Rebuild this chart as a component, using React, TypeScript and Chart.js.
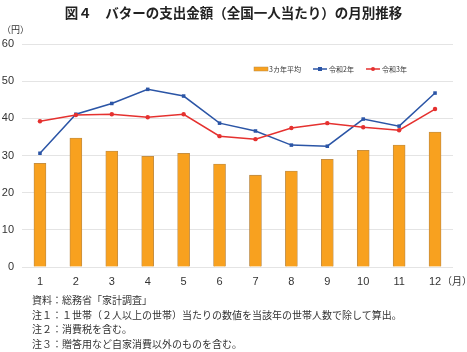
import React, { useEffect, useRef } from "react";
import { Chart, registerables } from "chart.js";

Chart.register(...registerables);

const months = ["1", "2", "3", "4", "5", "6", "7", "8", "9", "10", "11", "12"];
const avg3y = [27.9, 34.7, 31.2, 29.8, 30.6, 27.7, 24.7, 25.8, 29.0, 31.4, 32.8, 36.3];
const reiwa2 = [30.6, 41.1, 44.0, 47.8, 46.0, 38.7, 36.6, 32.8, 32.5, 39.8, 37.9, 46.8];
const reiwa3 = [39.2, 40.9, 41.1, 40.3, 41.1, 35.2, 34.4, 37.4, 38.7, 37.6, 36.8, 42.5];
const yTicks = [0, 10, 20, 30, 40, 50, 60];
const seriesNames = ["3カ年平均", "令和2年", "令和3年"];
const notes = [
  "資料：総務省「家計調査」",
  "注１：１世帯（２人以上の世帯）当たりの数値を当該年の世帯人数で除して算出。",
  "注２：消費税を含む。",
  "注３：贈答用など自家消費以外のものを含む。",
];

const ORANGE = "#F8A11F";
const ORANGE_BORDER = "#B98A4A";
const BLUE = "#2B55A6";
const RED = "#E5312F";
const JP = '"Noto Sans CJK JP", "Noto Sans", sans-serif';

const legendPlugin = {
  id: "customLegend",
  afterDraw(chart: any) {
    const ctx = chart.ctx;
    ctx.save();
    ctx.font = `7px ${JP}`;
    ctx.textBaseline = "middle";
    ctx.fillStyle = "#333";
    const y = 69;
    // bar item
    ctx.fillStyle = ORANGE;
    ctx.fillRect(254, y - 2, 14, 4);
    ctx.strokeStyle = ORANGE_BORDER;
    ctx.lineWidth = 0.5;
    ctx.strokeRect(254, y - 2, 14, 4);
    ctx.fillStyle = "#333";
    ctx.fillText(seriesNames[0], 269, y);
    // blue
    ctx.strokeStyle = BLUE;
    ctx.lineWidth = 1.5;
    ctx.beginPath();
    ctx.moveTo(313, y);
    ctx.lineTo(327, y);
    ctx.stroke();
    ctx.fillStyle = BLUE;
    ctx.fillRect(318, y - 2, 4, 4);
    ctx.fillStyle = "#333";
    ctx.fillText(seriesNames[1], 329, y);
    // red
    ctx.strokeStyle = RED;
    ctx.beginPath();
    ctx.moveTo(366, y);
    ctx.lineTo(380, y);
    ctx.stroke();
    ctx.fillStyle = RED;
    ctx.beginPath();
    ctx.arc(373, y, 2, 0, Math.PI * 2);
    ctx.fill();
    ctx.fillStyle = "#333";
    ctx.fillText(seriesNames[2], 382, y);
    ctx.restore();
  },
};

export default function App() {
  const ref = useRef<HTMLCanvasElement>(null);
  useEffect(() => {
    const chart = new Chart(ref.current!, {
      type: "bar",
      data: {
        labels: months,
        datasets: [
          {
            type: "line",
            label: seriesNames[2],
            data: reiwa3,
            borderColor: RED,
            backgroundColor: RED,
            borderWidth: 1.5,
            pointStyle: "circle",
            pointRadius: 2.2,
            pointBorderWidth: 0,
            tension: 0,
            order: 0,
          },
          {
            type: "line",
            label: seriesNames[1],
            data: reiwa2,
            borderColor: BLUE,
            backgroundColor: BLUE,
            borderWidth: 1.5,
            pointStyle: "rect",
            pointRadius: 2.5,
            pointBorderWidth: 0,
            tension: 0,
            order: 1,
          },
          {
            type: "bar",
            label: seriesNames[0],
            data: avg3y,
            backgroundColor: ORANGE,
            borderColor: ORANGE_BORDER,
            borderWidth: 0.8,
            barThickness: 12,
            order: 2,
          },
        ],
      },
      options: {
        animation: false,
        responsive: false,
        layout: { padding: { top: 44, right: 14, bottom: 5, left: 0 } },
        plugins: { legend: { display: false }, tooltip: { enabled: false } },
        scales: {
          x: {
            grid: { display: false, drawTicks: false },
            border: { display: false },
            ticks: {
              color: "#333",
              font: { size: 11, family: "Liberation Sans, Arial, sans-serif" },
              padding: 8,
            },
            afterFit(scale: any) {
              scale.height = 28;
            },
          },
          y: {
            min: 0,
            max: 60,
            afterBuildTicks(scale: any) {
              scale.ticks = yTicks.map((v) => ({ value: v }));
            },
            grid: { color: "#e4e4e4", lineWidth: 1, drawTicks: false },
            border: { display: false },
            ticks: {
              color: "#333",
              font: { size: 11, family: "Liberation Sans, Arial, sans-serif" },
              padding: 8,
            },
            afterFit(scale: any) {
              scale.width = 22;
            },
          },
        },
      },
      plugins: [legendPlugin],
    } as any);
    return () => chart.destroy();
  }, []);

  return (
    <div
      style={{
        position: "fixed",
        left: 0,
        top: 0,
        width: 467,
        height: 352,
        background: "#fff",
        fontFamily: JP,
        color: "#333",
      }}
    >
      <canvas ref={ref} width={467} height={300} style={{ position: "absolute", left: 0, top: 0 }} />
      <div
        style={{
          position: "absolute",
          left: 0,
          top: 3,
          width: 467,
          textAlign: "center",
          fontSize: 13.5,
          fontWeight: 700,
          lineHeight: "18px",
          color: "#222",
        }}
      >
        図４　バターの支出金額（全国一人当たり）の月別推移
      </div>
      <div style={{ position: "absolute", left: 2, top: 23, fontSize: 9, lineHeight: "14px" }}>（円）</div>
      <div style={{ position: "absolute", left: 442, top: 274, fontSize: 10, lineHeight: "14px" }}>（月）</div>
      {notes.map((n, i) => (
        <div
          key={i}
          style={{
            position: "absolute",
            left: 32,
            top: 293 + i * 14.6,
            fontSize: 10,
            lineHeight: "14px",
            whiteSpace: "nowrap",
          }}
        >
          {n}
        </div>
      ))}
    </div>
  );
}
